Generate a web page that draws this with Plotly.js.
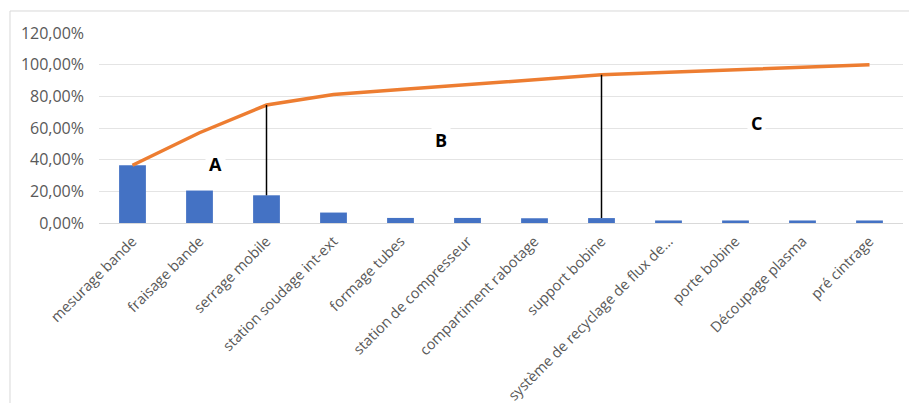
<!DOCTYPE html>
<html>
<head>
<meta charset="utf-8">
<script src="https://cdn.plot.ly/plotly-3.0.1.min.js"></script>
<style>
  html, body { margin: 0; padding: 0; background: #ffffff; }
  #chart { width: 909px; height: 403px; }
</style>
</head>
<body>
<div id="chart"></div>
<script>
// Pareto of stoppage causes by workstation
const categories = [
  "mesurage bande", "fraisage bande", "serrage mobile", "station soudage int-ext",
  "formage tubes", "station de compresseur", "compartiment rabotage", "support bobine",
  "système de recyclage de flux de…", "porte bobine", "Découpage plasma", "pré cintrage"
];
const sharePct = [36.5, 20.5, 17.5, 6.6, 3.2, 3.2, 3.0, 3.1, 1.6, 1.6, 1.6, 1.6];

// Class boundaries (A|B after index 2, B|C after index 7)
const boundaryIdx = [2, 7];
const classLabels = ["A", "B", "C"];
const classPos = [[0.1455, 0.31], [0.4254, 0.437], [0.818, 0.526]];

// running total for the Pareto curve
const cumulativePct = [];
sharePct.reduce((acc, v) => { const s = acc + v; cumulativePct.push(s); return s; }, 0);

const fontFamily = "'Open Sans', Lato, sans-serif";
const grey = "#595959";

const traces = [
  {
    type: "bar",
    x: categories,
    y: sharePct,
    width: 0.4,
    marker: { color: "#4472C4" },
    hoverinfo: "skip"
  },
  {
    type: "scatter",
    mode: "lines",
    x: categories,
    y: cumulativePct,
    line: { color: "#ED7D31", width: 3.5 },
    hoverinfo: "skip"
  }
];

const shapes = [
  // outer chart frame
  { type: "rect", xref: "paper", yref: "paper", x0: -0.1107, x1: 1.05, y0: -1.1, y1: 1.1158,
    line: { color: "#d9d9d9", width: 1 }, fillcolor: "rgba(0,0,0,0)", layer: "below" }
];
boundaryIdx.forEach(i => {
  shapes.push({
    type: "line", xref: "x", yref: "y",
    x0: categories[i], x1: categories[i],
    y0: sharePct[i], y1: cumulativePct[i],
    line: { color: "#000000", width: 1.5 }
  });
});

const annotations = classLabels.map((t, k) => ({
  text: "<b>" + t + "</b>",
  xref: "paper", yref: "paper",
  x: classPos[k][0], y: classPos[k][1],
  xanchor: "center", yanchor: "middle",
  showarrow: false,
  bgcolor: "#ffffff",
  borderpad: 3,
  font: { family: fontFamily, size: 18, color: "#000000" }
}));

const layout = {
  width: 909,
  height: 403,
  margin: { l: 99, r: 6, t: 33, b: 180 },
  paper_bgcolor: "#ffffff",
  plot_bgcolor: "#ffffff",
  showlegend: false,
  separators: ",.",
  bargap: 0.6,
  xaxis: {
    type: "category",
    tickangle: -45,
    ticks: "",
    ticklabelstandoff: 6,
    showgrid: false,
    showline: false,
    zeroline: false,
    tickfont: { family: fontFamily, size: 14.5, color: grey },
    automargin: false
  },
  yaxis: {
    range: [0, 120],
    dtick: 20,
    tick0: 0,
    tickformat: ".2f",
    ticksuffix: "%",
    ticks: "",
    ticklabelstandoff: 14,
    showgrid: true,
    gridcolor: "#e4e4e4",
    gridwidth: 1,
    zeroline: true,
    zerolinecolor: "#d9d9d9",
    zerolinewidth: 1,
    showline: false,
    tickfont: { family: fontFamily, size: 16, color: grey },
    automargin: false
  },
  shapes: shapes,
  annotations: annotations
};

Plotly.newPlot("chart", traces, layout, { displayModeBar: false, staticPlot: true });
</script>
</body>
</html>
